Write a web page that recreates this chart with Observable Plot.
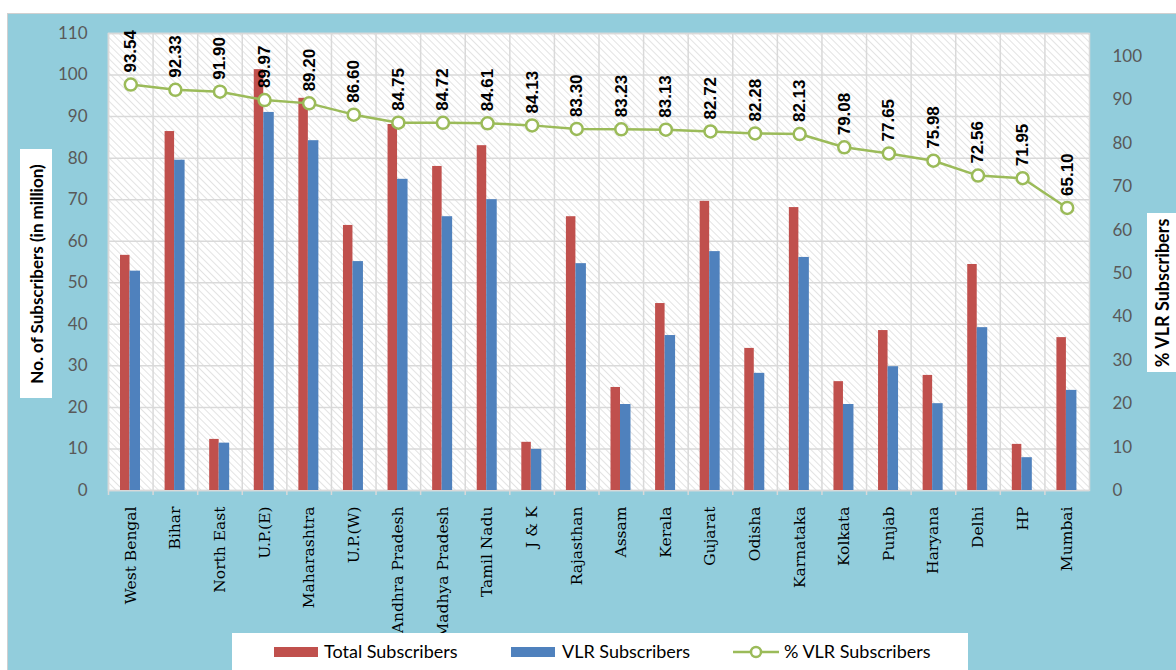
<!DOCTYPE html>
<html><head><meta charset="utf-8">
<script src="https://cdn.jsdelivr.net/npm/d3@7"></script>
<script src="https://cdn.jsdelivr.net/npm/@observablehq/plot@0.6"></script>
<style>
html,body{margin:0;padding:0;background:#fff;width:1176px;height:670px;overflow:hidden;}
#wrap{position:relative;width:1176px;height:670px;}
#panel{position:absolute;left:7px;top:13px;right:0;bottom:0;background:#92CDDC;border-top:1px solid #D0D0D0;border-left:1px solid #D0D0D0;}
#bars,#line{position:absolute;left:0;top:0;}
.ybox{position:absolute;background:#fff;overflow:hidden;}
.ytitle{position:absolute;left:50%;top:50%;transform:translate(-50%,-50%) rotate(-90deg);white-space:nowrap;font-family:Lato,"Open Sans",sans-serif;font-weight:bold;font-size:17px;color:#000;}
#legend{position:absolute;left:232px;top:633px;width:736px;height:37px;background:#fff;font-family:Lato,"Open Sans",sans-serif;font-size:18px;color:#000;}
#legend .sw{position:absolute;top:14px;width:44px;height:10px;}
#legend .tx{position:absolute;top:8px;line-height:20px;white-space:nowrap;}
</style></head>
<body>
<div id="wrap">
  <div id="panel"></div>
  <div class="ybox" style="left:20px;top:149px;width:32px;height:249px;"><div class="ytitle">No. of Subscribers (in million)</div></div>
  <div class="ybox" style="left:1147px;top:213px;width:29px;height:159px;"><div class="ytitle" style="left:52%;font-size:18px">% VLR Subscribers</div></div>
  <div id="bars"></div>
  <div id="line"></div>
  <div id="legend"></div>
</div>
<script>
const regions = ["West Bengal","Bihar","North East","U.P.(E)","Maharashtra","U.P.(W)","Andhra Pradesh","Madhya Pradesh","Tamil Nadu","J & K","Rajasthan","Assam","Kerala","Gujarat","Odisha","Karnataka","Kolkata","Punjab","Haryana","Delhi","HP","Mumbai"];
const totalSubs = [56.6,86.4,12.3,101.3,94.4,63.8,88.1,78.0,83.0,11.6,65.9,24.8,45.0,69.6,34.2,68.1,26.2,38.5,27.7,54.4,11.1,36.8];
const vlrSubs   = [52.8,79.5,11.4,91.0,84.2,55.1,74.9,65.9,70.0,9.9,54.6,20.7,37.3,57.5,28.2,56.1,20.7,29.8,20.9,39.2,7.9,24.1];
const pctVLR    = [93.54,92.33,91.90,89.97,89.20,86.60,84.75,84.72,84.61,84.13,83.30,83.23,83.13,82.72,82.28,82.13,79.08,77.65,75.98,72.56,71.95,65.10];
const leftTicks = [0,10,20,30,40,50,60,70,80,90,100,110];
const rightTicks = [0,10,20,30,40,50,60,70,80,90,100];
const seriesNames = ["Total Subscribers","VLR Subscribers","% VLR Subscribers"];

const data = regions.map((r,i)=>({region:r,total:totalSubs[i],vlr:vlrSubs[i],pct:pctVLR[i]}));

const W=1176,H=670,ML=108,MR=87,MT=33,MB=180;
const bw = (W-ML-MR)/regions.length;
const grid = "#D9D9D9";

const bars = Plot.plot({
  width:W,height:H,marginLeft:ML,marginRight:MR,marginTop:MT,marginBottom:MB,
  style:{background:"transparent",overflow:"visible",fontFamily:"Lato, sans-serif"},
  x:{type:"band",domain:regions,padding:0,round:false,label:null},
  y:{domain:[0,110],label:null},
  marks:[
    Plot.frame({fill:"url(#hatch)"}),
    Plot.gridY(leftTicks,{stroke:grid,strokeOpacity:1,strokeWidth:1.5}),
    Plot.ruleX(regions,{x:d=>d,dx:-bw/2,stroke:grid,strokeWidth:1.5,insetBottom:-5}),
    Plot.frame({stroke:grid,strokeWidth:1.5}),
    Plot.barY(data,{x:"region",y:"total",fill:"#C0504D",insetLeft:12,insetRight:bw-21.5}),
    Plot.barY(data,{x:"region",y:"vlr",fill:"#4F81BD",insetLeft:21.5,insetRight:bw-32}),
    Plot.axisY({ticks:leftTicks,tickSize:0,tickPadding:21,fontSize:17,fill:"#595959",label:null}),
    Plot.axisX({tickRotate:-90,tickSize:0,tickPadding:16,fontFamily:"DejaVu Serif",fontSize:15.5,fill:"#000",label:null})
  ]
});
const defs = d3.select(bars).insert("defs",":first-child");
const pat = defs.append("pattern").attr("id","hatch").attr("patternUnits","userSpaceOnUse")
  .attr("width",5).attr("height",5).attr("patternTransform","rotate(-45)");
pat.append("rect").attr("width",5).attr("height",5).attr("fill","#fff");
pat.append("line").attr("x1",0).attr("y1",0).attr("x2",0).attr("y2",5).attr("stroke","#DCDCDC").attr("stroke-width",1.6);
document.getElementById("bars").appendChild(bars);

const line = Plot.plot({
  width:W,height:H,marginLeft:ML,marginRight:MR,marginTop:MT,marginBottom:MB,
  style:{background:"transparent",overflow:"visible",fontFamily:"Lato, sans-serif"},
  x:{type:"band",domain:regions,padding:0,round:false,axis:null},
  y:{domain:[0,105.3],label:null},
  marks:[
    Plot.axisY({anchor:"right",ticks:rightTicks,tickSize:0,tickPadding:23,fontSize:17,fill:"#595959",label:null}),
    Plot.line(data,{x:"region",y:"pct",stroke:"#9BBB59",strokeWidth:2.5}),
    Plot.dot(data,{x:"region",y:"pct",r:6,fill:"white",stroke:"#9BBB59",strokeWidth:2.5}),
    Plot.text(data,{x:"region",y:"pct",text:d=>d.pct.toFixed(2),rotate:-90,textAnchor:"start",dy:-12,fontFamily:"Liberation Sans",fontWeight:"bold",fontSize:17,fill:"#000"})
  ]
});
document.getElementById("line").appendChild(line);

const leg = document.getElementById("legend");
leg.innerHTML = `
 <div class="sw" style="left:42px;background:#C0504D"></div><div class="tx" style="left:92px">${seriesNames[0]}</div>
 <div class="sw" style="left:279px;background:#4F81BD"></div><div class="tx" style="left:330px">${seriesNames[1]}</div>
 <svg style="position:absolute;left:500px;top:9px" width="48" height="20"><line x1="1" y1="10" x2="47" y2="10" stroke="#9BBB59" stroke-width="2.5"/><circle cx="24" cy="10" r="5" fill="#fff" stroke="#9BBB59" stroke-width="2.5"/></svg>
 <div class="tx" style="left:552px">${seriesNames[2]}</div>`;
</script>
</body></html>
